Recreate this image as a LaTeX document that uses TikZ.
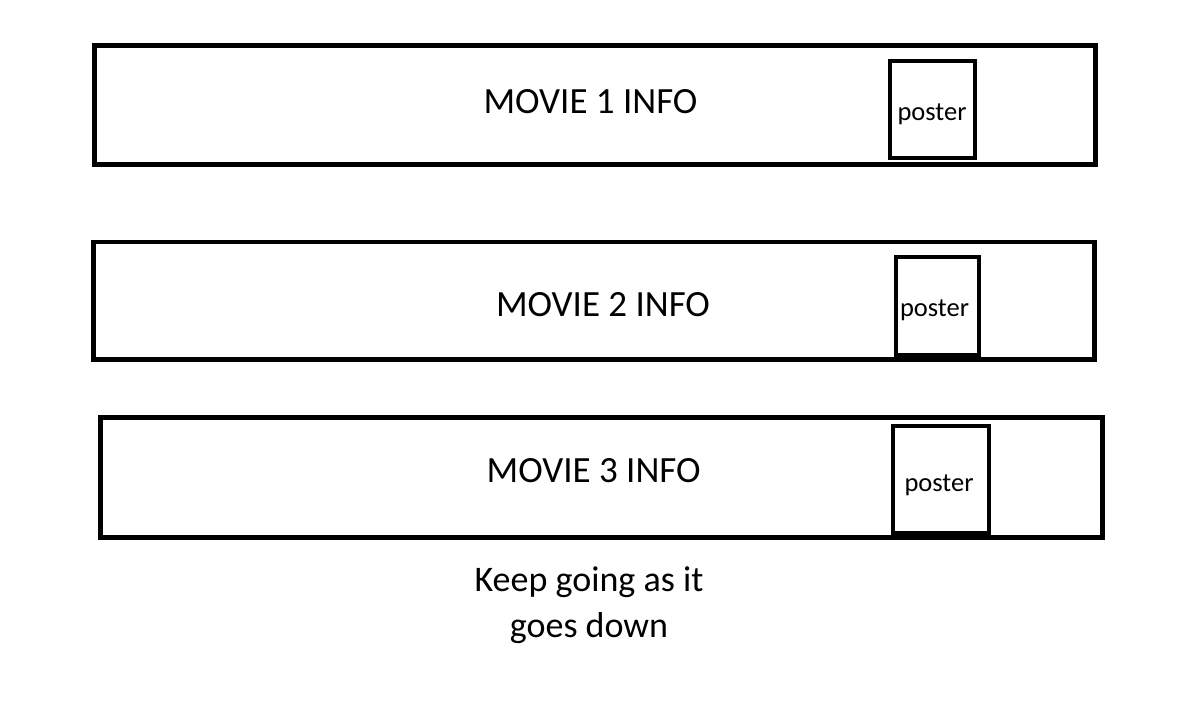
\documentclass[tikz,border=0pt]{standalone}
\usepackage{fontspec}
\setmainfont{Carlito}
\begin{document}
\begin{tikzpicture}[x=1pt,y=-1pt,
  rowbox/.style={draw=black,line width=4.7pt,fill=white,inner sep=0pt},
  posterbox/.style={draw=black,line width=4.3pt,fill=white,inner sep=0pt},
  postertext/.style={inner sep=0pt,anchor=base,font=\fontsize{26.5}{30}\selectfont},
  bigtext/.style={inner sep=0pt,anchor=base,font=\fontsize{37}{45}\selectfont},
  notetext/.style={inner sep=0pt,font=\fontsize{36}{45}\selectfont}]
\useasboundingbox[fill=white] (0,0) rectangle (1178,701);
\node[rowbox,minimum width=1001pt,minimum height=119pt] (b1) at (595,105) {};
\node[rowbox,minimum width=1001pt,minimum height=117.5pt] (b2) at (594,300.7) {};
\node[rowbox,minimum width=1002pt,minimum height=120pt] (b3) at (601.5,477.5) {};
\node[bigtext] (t1) at (590.5,113.3) {MOVIE 1 INFO};
\node[bigtext] (t2) at (603,316.7) {MOVIE 2 INFO};
\node[bigtext] (t3) at (593.7,482.3) {MOVIE 3 INFO};
\node[posterbox,minimum width=85pt,minimum height=97pt] (p1) at (932.5,109.5) {};
\node[posterbox,minimum width=83pt,minimum height=98pt] (p2) at (937.5,306) {};
\node[posterbox,minimum width=96pt,minimum height=107pt] (p3) at (941,479.5) {};
\node[postertext] (pt1) at (932,121) {poster};
\node[postertext] (pt2) at (934.5,316) {poster};
\node[postertext] (pt3) at (939,491) {poster};
\node[notetext] (n1) at (589,591.7) [anchor=base] {Keep going as it};
\node[notetext] (n2) at (589,637) [anchor=base] {goes down};
\end{tikzpicture}
\end{document}
